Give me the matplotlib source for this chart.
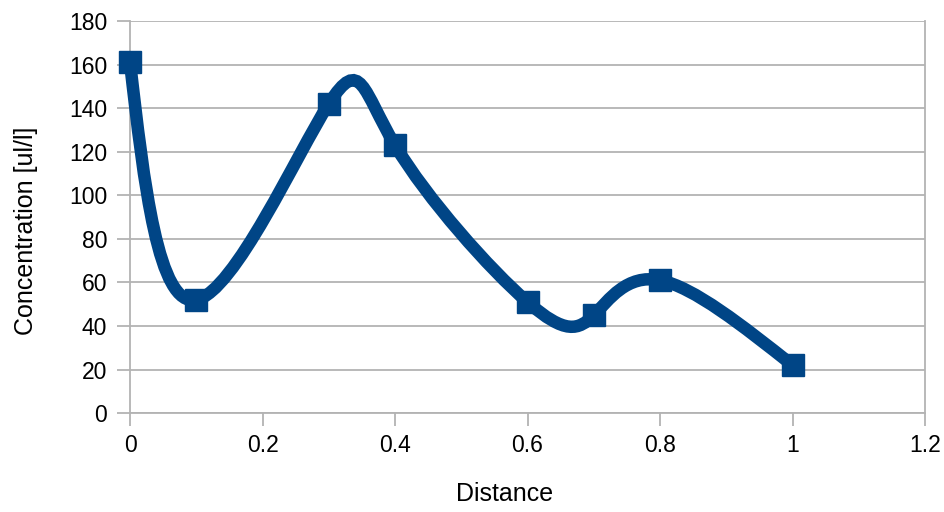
import matplotlib
matplotlib.use("Agg")
import matplotlib.pyplot as plt
from matplotlib.path import Path
from matplotlib.patches import PathPatch
import numpy as np

distance = [0, 0.1, 0.3, 0.4, 0.6, 0.7, 0.8, 1.0]
concentration = [161, 52, 142, 123, 51, 45, 61, 22]

x_ticks = [0, 0.2, 0.4, 0.6, 0.8, 1, 1.2]
x_tick_labels = ["0", "0.2", "0.4", "0.6", "0.8", "1", "1.2"]
y_ticks = [0, 20, 40, 60, 80, 100, 120, 140, 160, 180]

azul = "#004586"
gris = "#b3b3b3"

plt.rcParams["font.family"] = ["Liberation Sans", "DejaVu Sans"]


def natural_slopes(t, v):
    # first derivatives of a natural cubic spline v(t) at the knots
    n = len(t)
    h = np.diff(t)
    A = np.zeros((n, n))
    b = np.zeros(n)
    A[0, 0] = 1
    A[-1, -1] = 1
    for i in range(1, n - 1):
        A[i, i - 1] = h[i - 1]
        A[i, i] = 2 * (h[i - 1] + h[i])
        A[i, i + 1] = h[i]
        b[i] = 6 * ((v[i + 1] - v[i]) / h[i] - (v[i] - v[i - 1]) / h[i - 1])
    M = np.linalg.solve(A, b)
    d = np.zeros(n)
    for i in range(n - 1):
        d[i] = (v[i + 1] - v[i]) / h[i] - h[i] * (2 * M[i] + M[i + 1]) / 6
    d[-1] = (v[-1] - v[-2]) / h[-1] + h[-1] * (M[-2] + 2 * M[-1]) / 6
    return d


def spline_path(xs, ys):
    # parametric spline, one parameter step per point
    xs = np.asarray(xs, float)
    ys = np.asarray(ys, float)
    t = np.arange(len(xs), dtype=float)
    dx = natural_slopes(t, xs)
    dy = natural_slopes(t, ys)
    verts = [(xs[0], ys[0])]
    codes = [Path.MOVETO]
    for i in range(len(xs) - 1):
        k = (t[i + 1] - t[i]) / 3
        verts += [(xs[i] + dx[i] * k, ys[i] + dy[i] * k),
                  (xs[i + 1] - dx[i + 1] * k, ys[i + 1] - dy[i + 1] * k),
                  (xs[i + 1], ys[i + 1])]
        codes += [Path.CURVE4] * 3
    return Path(verts, codes)


fig = plt.figure(figsize=(9.45, 5.12), dpi=100)
ax = fig.add_axes([0.1376, 0.193, 0.8413, 0.766])
ax.set_xlim(0, 1.2)
ax.set_ylim(0, 180)

ax.add_patch(PathPatch(spline_path(distance, concentration), facecolor="none",
                       edgecolor=azul, linewidth=9, capstyle="round",
                       zorder=3, clip_on=False))
ax.plot(distance, concentration, linestyle="none", marker="s", markersize=16.5,
        color=azul, zorder=4, clip_on=False)

ax.set_xticks(x_ticks)
ax.set_xticklabels(x_tick_labels)
ax.set_yticks(y_ticks)
ax.grid(axis="y", color=gris, linewidth=1.3)
ax.set_axisbelow(True)
for s in ax.spines.values():
    s.set_color(gris)
    s.set_linewidth(1.3)
ax.spines["top"].set_visible(False)
ax.tick_params(direction="out", length=9.5, width=1.3, color=gris,
               labelsize=16.5, labelcolor="black")
ax.tick_params(axis="x", pad=5.5)
ax.tick_params(axis="y", pad=7)

fig.text(0.534, 0.035, "Distance", fontsize=18, ha="center", va="center")
fig.text(0.027, 0.549, "Concentration [ul/l]", fontsize=18, rotation=90,
         ha="center", va="center")

plt.savefig("out.png", dpi=100)
plt.close()
